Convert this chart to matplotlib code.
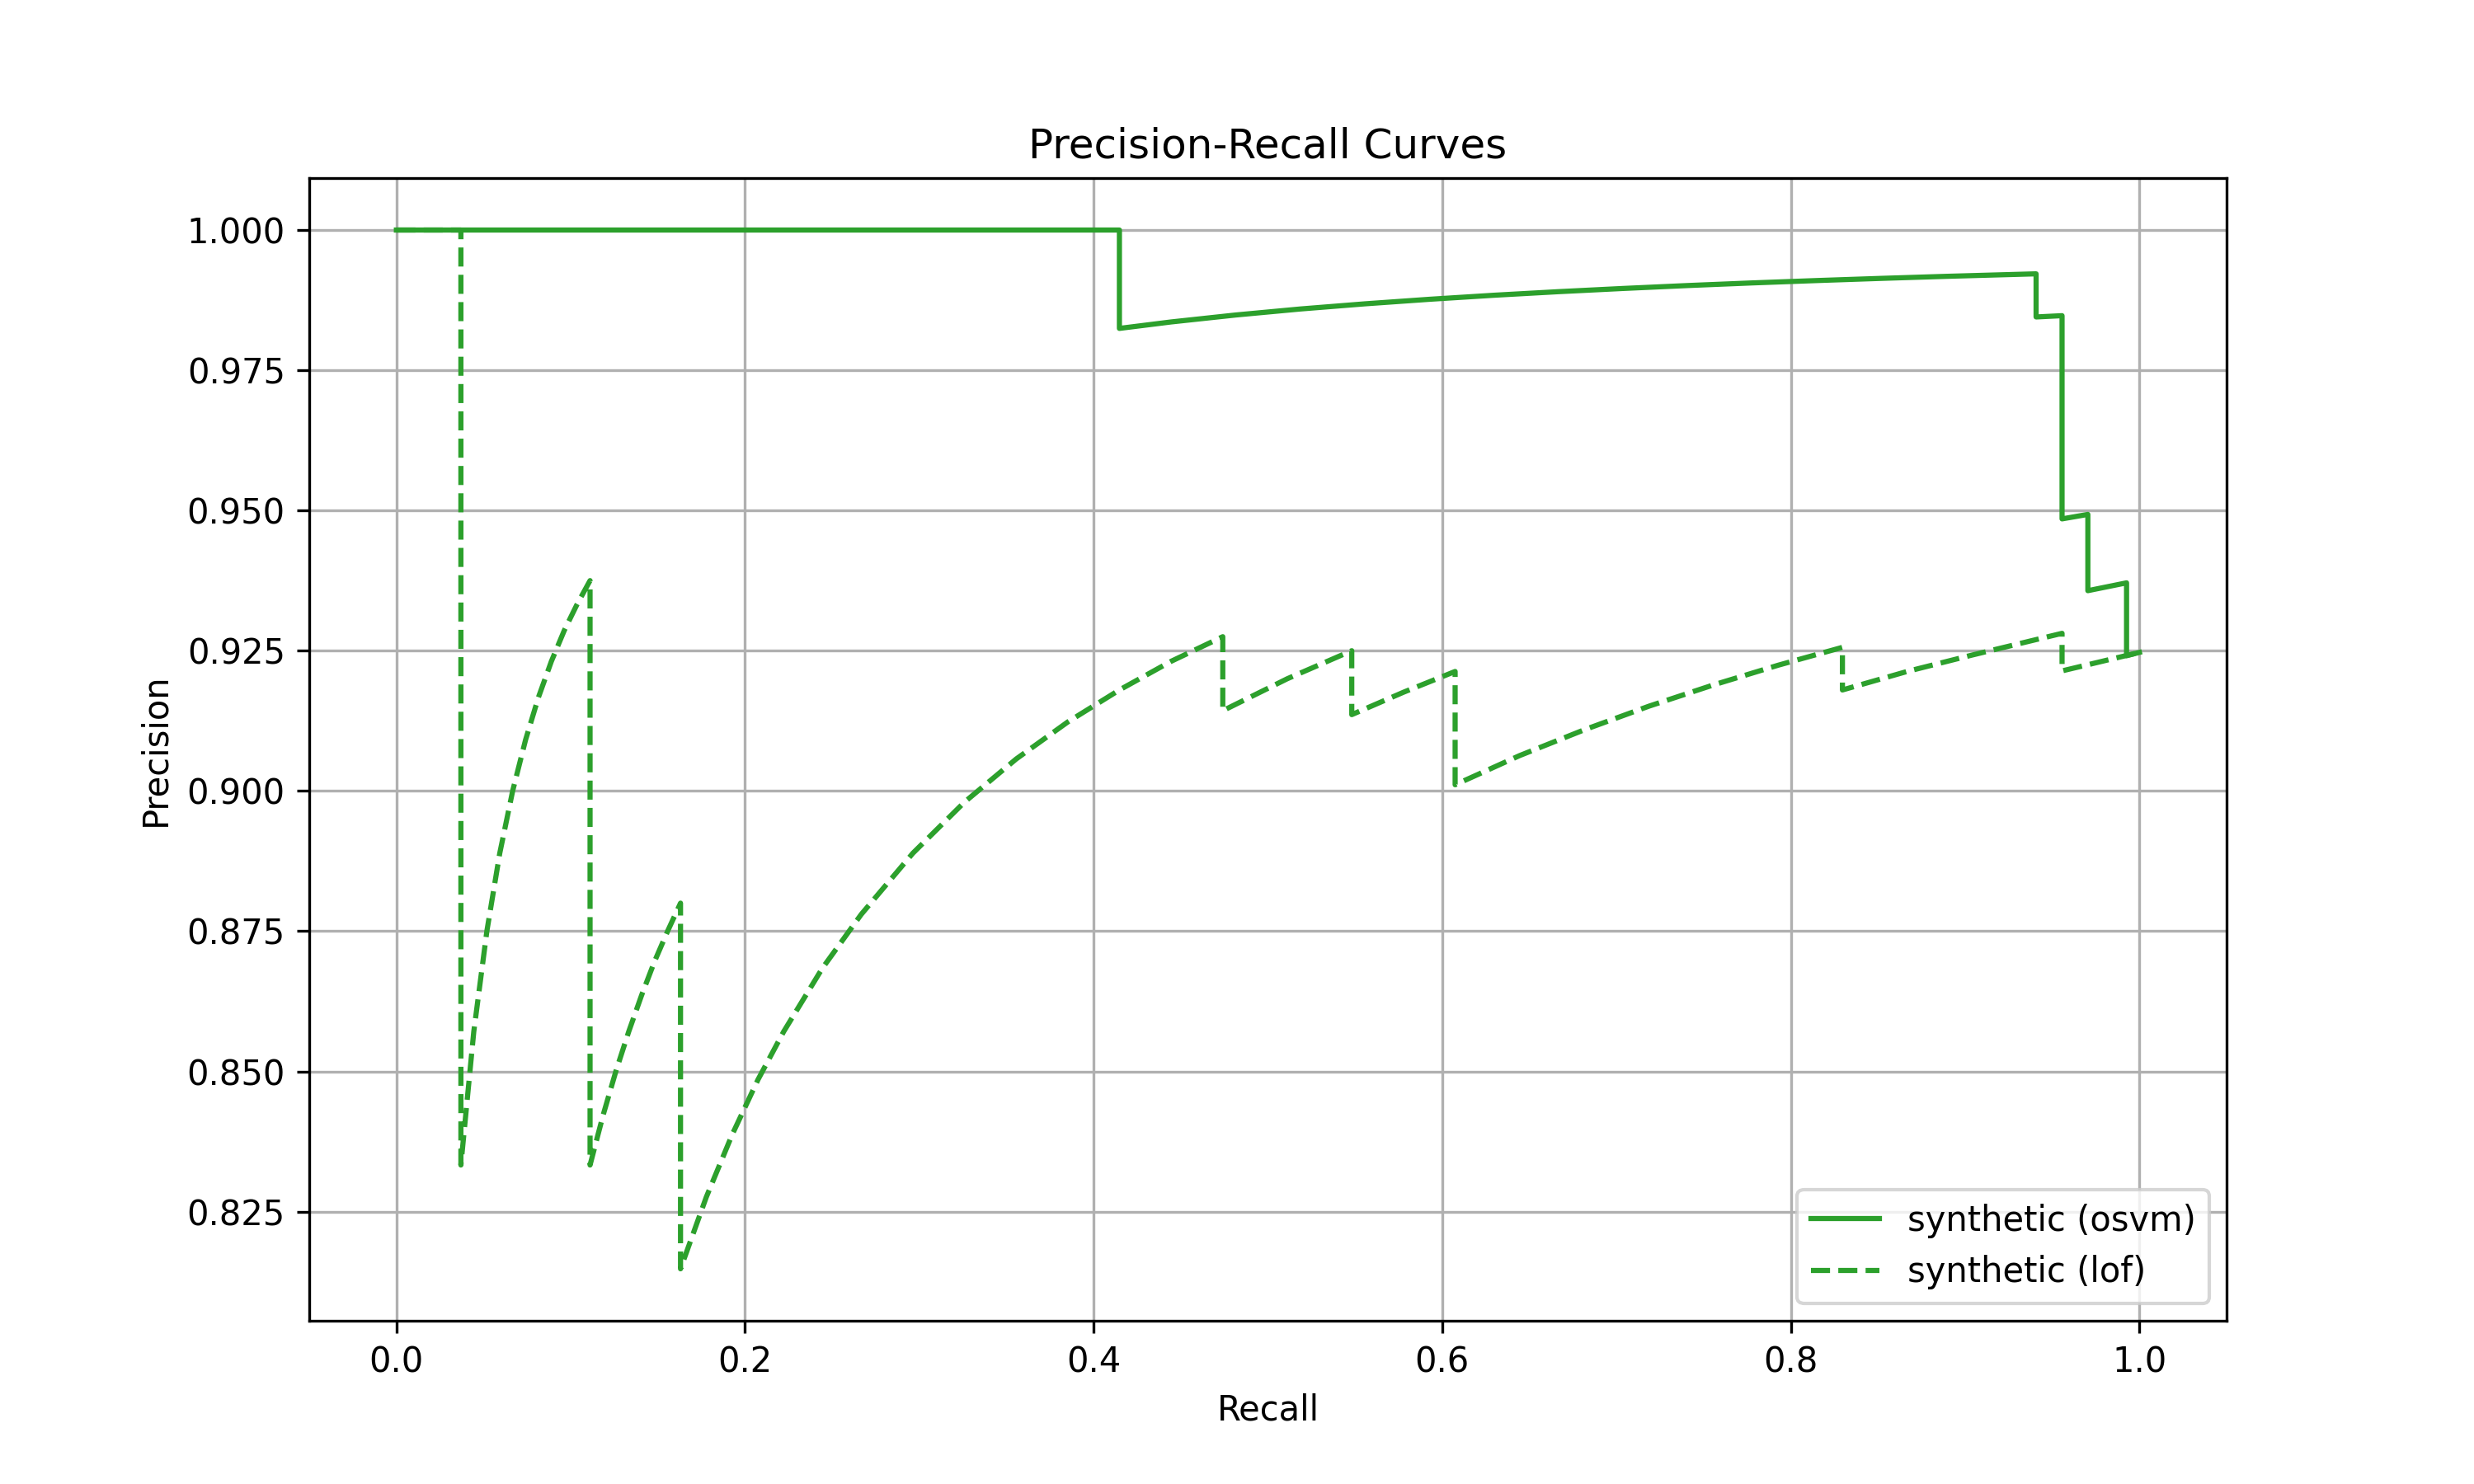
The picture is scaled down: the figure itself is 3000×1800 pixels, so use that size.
import matplotlib
matplotlib.use("Agg")
import matplotlib.pyplot as plt

# synthetic (osvm) precision-recall points
osvm_recall = [0.0, 0.0074, 0.2, 0.4148, 0.4148, 0.4444, 0.4815, 0.5185, 0.5556,
               0.5926, 0.6296, 0.6667, 0.7037, 0.7407, 0.7778, 0.8148, 0.8519,
               0.8889, 0.9407, 0.9407, 0.9556, 0.9556, 0.9704, 0.9704, 0.9926,
               0.9926, 1.0]
osvm_precision = [1.0, 1.0, 1.0, 1.0, 0.98246, 0.98361, 0.98485, 0.98592, 0.98684,
                  0.98765, 0.98837, 0.98901, 0.98958, 0.9901, 0.99057, 0.99099,
                  0.99138, 0.99174, 0.99219, 0.9845, 0.98473, 0.9485, 0.9493,
                  0.9357, 0.9371, 0.9241, 0.9247]

# synthetic (lof) precision-recall points
lof_recall = [0.0, 0.037, 0.037, 0.0444, 0.0519, 0.0593, 0.0667, 0.0741, 0.0815,
              0.0889, 0.0963, 0.1037, 0.1111, 0.1111, 0.1185, 0.1259, 0.1333,
              0.1407, 0.1481, 0.1556, 0.163, 0.163, 0.1778, 0.1926, 0.2074,
              0.2222, 0.2444, 0.2667, 0.2963, 0.3259, 0.3556, 0.3852, 0.4148,
              0.4444, 0.4741, 0.4741, 0.5111, 0.5481, 0.5481, 0.5778, 0.6074,
              0.6074, 0.6444, 0.6815, 0.7185, 0.7556, 0.7926, 0.8296, 0.8296,
              0.8667, 0.9037, 0.9556, 0.9556, 1.0]
lof_precision = [1.0, 1.0, 0.8333, 0.8571, 0.875, 0.8889, 0.9, 0.9091, 0.9167,
                 0.9231, 0.9286, 0.9333, 0.9375, 0.8333, 0.8421, 0.85, 0.8571,
                 0.8636, 0.8696, 0.875, 0.88, 0.8148, 0.8276, 0.8387, 0.8485,
                 0.8571, 0.8684, 0.878, 0.8889, 0.898, 0.9057, 0.9123, 0.918,
                 0.9231, 0.9275, 0.9143, 0.92, 0.925, 0.9136, 0.9176, 0.9213,
                 0.9011, 0.9063, 0.9109, 0.9151, 0.9189, 0.9224, 0.9256, 0.918,
                 0.9213, 0.9242, 0.9281, 0.9214, 0.9247]

fig, ax = plt.subplots(figsize=(10, 6), dpi=300)
ax.plot(osvm_recall, osvm_precision, color="#2ca02c", linestyle="-",
        label="synthetic (osvm)")
ax.plot(lof_recall, lof_precision, color="#2ca02c", linestyle="--",
        label="synthetic (lof)")
ax.set_xlabel("Recall")
ax.set_ylabel("Precision")
ax.set_title("Precision-Recall Curves")
ax.legend(loc="lower right")
ax.grid(True)
fig.savefig("out.png", dpi=300)
